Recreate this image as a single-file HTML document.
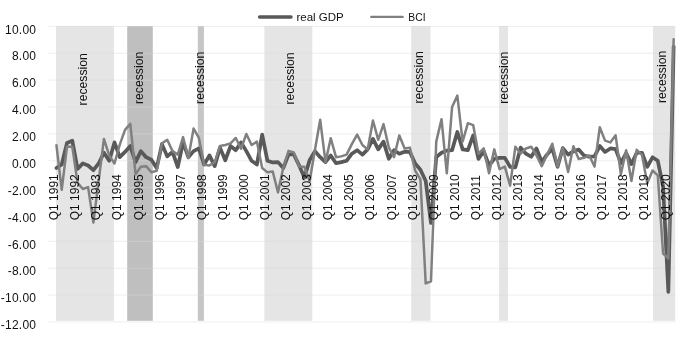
<!DOCTYPE html>
<html><head><meta charset="utf-8"><title>real GDP and BCI</title>
<style>html,body{margin:0;padding:0;background:#fff}svg{display:block}text{font-family:"Liberation Sans",sans-serif;font-size:12px;fill:#111}</style></head>
<body>
<svg width="690" height="345" viewBox="0 0 690 345">
<rect width="690" height="345" fill="#fff"/>
<rect x="56.0" y="26" width="57.9" height="294.8" fill="#e5e5e5"/>
<rect x="127.2" y="26" width="25.6" height="294.8" fill="#bfbfbf"/>
<rect x="197.8" y="26" width="6.1" height="294.8" fill="#c6c6c6"/>
<rect x="264.4" y="26" width="47.9" height="294.8" fill="#e5e5e5"/>
<rect x="411.2" y="26" width="19.3" height="294.8" fill="#e5e5e5"/>
<rect x="499.1" y="26" width="8.9" height="294.8" fill="#e5e5e5"/>
<rect x="653.0" y="26" width="22.2" height="294.8" fill="#e5e5e5"/>
<line x1="48.3" y1="26.40" x2="675.5" y2="26.40" stroke="#d9d9d9" stroke-width="1" stroke-opacity="0.45"/>
<line x1="48.3" y1="53.27" x2="675.5" y2="53.27" stroke="#d9d9d9" stroke-width="1" stroke-opacity="0.45"/>
<line x1="48.3" y1="80.14" x2="675.5" y2="80.14" stroke="#d9d9d9" stroke-width="1" stroke-opacity="0.45"/>
<line x1="48.3" y1="107.01" x2="675.5" y2="107.01" stroke="#d9d9d9" stroke-width="1" stroke-opacity="0.45"/>
<line x1="48.3" y1="133.88" x2="675.5" y2="133.88" stroke="#d9d9d9" stroke-width="1" stroke-opacity="0.45"/>
<line x1="48.3" y1="160.75" x2="675.5" y2="160.75" stroke="#d9d9d9" stroke-width="1" stroke-opacity="0.45"/>
<line x1="48.3" y1="187.62" x2="675.5" y2="187.62" stroke="#d9d9d9" stroke-width="1" stroke-opacity="0.45"/>
<line x1="48.3" y1="214.49" x2="675.5" y2="214.49" stroke="#d9d9d9" stroke-width="1" stroke-opacity="0.45"/>
<line x1="48.3" y1="241.36" x2="675.5" y2="241.36" stroke="#d9d9d9" stroke-width="1" stroke-opacity="0.45"/>
<line x1="48.3" y1="268.23" x2="675.5" y2="268.23" stroke="#d9d9d9" stroke-width="1" stroke-opacity="0.45"/>
<line x1="48.3" y1="295.10" x2="675.5" y2="295.10" stroke="#d9d9d9" stroke-width="1" stroke-opacity="0.45"/>
<line x1="48.3" y1="321.97" x2="675.5" y2="321.97" stroke="#d9d9d9" stroke-width="1" stroke-opacity="0.45"/>
<text x="36.3" y="33.5" text-anchor="end" style="letter-spacing:0.25px">10.00</text>
<text x="36.3" y="60.4" text-anchor="end" style="letter-spacing:0.25px">8.00</text>
<text x="36.3" y="87.2" text-anchor="end" style="letter-spacing:0.25px">6.00</text>
<text x="36.3" y="114.1" text-anchor="end" style="letter-spacing:0.25px">4.00</text>
<text x="36.3" y="141.0" text-anchor="end" style="letter-spacing:0.25px">2.00</text>
<text x="36.3" y="167.8" text-anchor="end" style="letter-spacing:0.25px">0.00</text>
<text x="36.3" y="194.7" text-anchor="end" style="letter-spacing:0.25px">-2.00</text>
<text x="36.3" y="221.6" text-anchor="end" style="letter-spacing:0.25px">-4.00</text>
<text x="36.3" y="248.5" text-anchor="end" style="letter-spacing:0.25px">-6.00</text>
<text x="36.3" y="275.3" text-anchor="end" style="letter-spacing:0.25px">-8.00</text>
<text x="36.3" y="302.2" text-anchor="end" style="letter-spacing:0.25px">-10.00</text>
<text x="36.3" y="329.1" text-anchor="end" style="letter-spacing:0.25px">-12.00</text>
<polyline fill="none" stroke="#595959" stroke-width="3.7" stroke-linejoin="round" stroke-linecap="round" points="56.45,168.05 61.73,164.56 67.00,142.93 72.28,140.65 77.55,168.86 82.83,163.35 88.10,165.50 93.38,170.20 98.65,163.49 103.93,152.74 109.20,160.80 114.48,142.39 119.75,157.17 125.03,151.93 130.30,146.02 135.57,162.14 140.85,151.13 146.12,157.17 151.40,159.73 156.68,168.05 161.95,144.14 167.23,156.37 172.50,151.93 177.78,167.11 183.05,142.39 188.32,157.17 193.60,151.13 198.88,148.44 204.15,164.56 209.43,155.43 214.70,166.17 219.98,147.63 225.25,160.26 230.53,146.02 235.80,150.19 241.07,142.39 246.35,151.13 251.62,160.80 256.90,164.56 262.18,134.60 267.45,160.80 272.73,162.41 278.00,162.14 283.28,168.05 288.55,154.49 293.83,154.49 299.10,165.37 304.38,177.59 309.65,160.13 314.93,151.13 320.20,157.17 325.48,162.14 330.75,155.43 336.03,163.22 341.30,162.14 346.57,160.80 351.85,153.68 357.12,150.19 362.40,154.62 367.68,149.38 372.95,138.90 378.23,149.38 383.50,141.59 388.78,158.78 394.05,150.19 399.32,153.68 404.60,151.66 409.88,151.93 415.15,163.49 420.43,169.80 425.70,180.95 430.98,223.00 436.25,157.17 441.53,152.74 446.80,150.59 452.07,150.19 457.35,131.91 462.62,149.38 467.90,150.19 473.18,135.41 478.45,158.92 483.73,151.13 489.00,165.50 494.28,158.78 499.55,157.84 504.83,157.84 510.10,166.85 515.38,167.38 520.65,147.63 525.93,153.68 531.20,156.77 536.48,148.44 541.75,161.87 547.03,154.62 552.30,148.71 557.58,166.85 562.85,148.04 568.12,154.62 573.40,151.40 578.68,149.51 583.95,155.43 589.23,156.77 594.50,156.37 599.78,146.02 605.05,151.93 610.33,148.44 615.60,149.11 620.88,163.22 626.15,153.14 631.43,164.16 636.70,152.74 641.98,152.74 647.25,166.85 652.53,157.31 657.80,160.80 663.08,186.33 668.35,291.93 673.63,46.60"/>
<polyline fill="none" stroke="#808080" stroke-width="2.5" stroke-linejoin="round" stroke-linecap="round" points="56.45,145.35 61.73,189.82 67.00,146.69 72.28,146.69 77.55,182.83 82.83,189.01 88.10,187.13 93.38,222.60 98.65,180.95 103.93,138.90 109.20,155.43 114.48,163.49 119.75,144.68 125.03,129.90 130.30,123.85 135.57,174.24 140.85,166.85 146.12,166.17 151.40,172.22 156.68,170.88 161.95,143.33 167.23,139.84 172.50,151.13 177.78,154.62 183.05,137.15 188.32,158.11 193.60,128.56 198.88,137.96 204.15,164.83 209.43,165.50 214.70,162.14 219.98,146.02 225.25,144.95 230.53,143.33 235.80,137.96 241.07,148.71 246.35,133.93 251.62,144.95 256.90,141.59 262.18,168.05 267.45,172.35 272.73,171.55 278.00,192.37 283.28,167.52 288.55,150.86 293.83,152.47 299.10,166.44 304.38,166.85 309.65,180.95 314.93,150.05 320.20,119.82 325.48,162.14 330.75,138.23 336.03,157.17 341.30,156.37 346.57,154.62 351.85,144.14 357.12,134.60 362.40,144.95 367.68,149.38 372.95,120.50 378.23,139.84 383.50,124.12 388.78,147.37 394.05,157.17 399.32,135.41 404.60,148.44 409.88,147.63 415.15,170.61 420.43,179.34 425.70,283.46 430.98,281.31 436.25,141.59 441.53,119.15 446.80,173.29 452.07,107.06 457.35,95.64 462.62,141.59 467.90,123.18 473.18,125.06 478.45,153.68 483.73,148.44 489.00,173.29 494.28,149.38 499.55,169.13 504.83,166.58 510.10,185.65 515.38,146.69 520.65,153.68 525.93,148.44 531.20,146.69 536.48,155.43 541.75,166.17 547.03,154.62 552.30,143.74 557.58,166.44 562.85,147.77 568.12,171.95 573.40,146.29 578.68,158.92 583.95,157.84 589.23,155.43 594.50,166.58 599.78,127.21 605.05,140.65 610.33,142.39 615.60,135.27 620.88,174.24 626.15,150.32 631.43,180.95 636.70,149.78 641.98,154.89 647.25,183.37 652.53,170.47 657.80,175.31 663.08,253.50 668.35,258.34 673.63,39.21"/>
<text transform="translate(58.2,220.3) rotate(-90)">Q1 1991</text>
<text transform="translate(79.3,220.3) rotate(-90)">Q1 1992</text>
<text transform="translate(100.4,220.3) rotate(-90)">Q1 1993</text>
<text transform="translate(121.4,220.3) rotate(-90)">Q1 1994</text>
<text transform="translate(142.5,220.3) rotate(-90)">Q1 1995</text>
<text transform="translate(163.6,220.3) rotate(-90)">Q1 1996</text>
<text transform="translate(184.7,220.3) rotate(-90)">Q1 1997</text>
<text transform="translate(205.8,220.3) rotate(-90)">Q1 1998</text>
<text transform="translate(226.8,220.3) rotate(-90)">Q1 1999</text>
<text transform="translate(247.9,220.3) rotate(-90)">Q1 2000</text>
<text transform="translate(269.0,220.3) rotate(-90)">Q1 2001</text>
<text transform="translate(290.1,220.3) rotate(-90)">Q1 2002</text>
<text transform="translate(311.2,220.3) rotate(-90)">Q1 2003</text>
<text transform="translate(332.2,220.3) rotate(-90)">Q1 2004</text>
<text transform="translate(353.3,220.3) rotate(-90)">Q1 2005</text>
<text transform="translate(374.4,220.3) rotate(-90)">Q1 2006</text>
<text transform="translate(395.5,220.3) rotate(-90)">Q1 2007</text>
<text transform="translate(416.6,220.3) rotate(-90)">Q1 2008</text>
<text transform="translate(437.6,220.3) rotate(-90)">Q1 2009</text>
<text transform="translate(458.7,220.3) rotate(-90)">Q1 2010</text>
<text transform="translate(479.8,220.3) rotate(-90)">Q1 2011</text>
<text transform="translate(500.9,220.3) rotate(-90)">Q1 2012</text>
<text transform="translate(522.0,220.3) rotate(-90)">Q1 2013</text>
<text transform="translate(543.0,220.3) rotate(-90)">Q1 2014</text>
<text transform="translate(564.1,220.3) rotate(-90)">Q1 2015</text>
<text transform="translate(585.2,220.3) rotate(-90)">Q1 2016</text>
<text transform="translate(606.3,220.3) rotate(-90)">Q1 2017</text>
<text transform="translate(627.4,220.3) rotate(-90)">Q1 2018</text>
<text transform="translate(648.4,220.3) rotate(-90)">Q1 2019</text>
<text transform="translate(669.5,220.3) rotate(-90)">Q1 2020</text>
<text transform="translate(87.1,79.3) rotate(-90)" text-anchor="middle" style="font-size:12.2px">recession</text>
<text transform="translate(143.4,77.9) rotate(-90)" text-anchor="middle" style="font-size:12.2px">recession</text>
<text transform="translate(203.6,77.8) rotate(-90)" text-anchor="middle" style="font-size:12.2px">recession</text>
<text transform="translate(294.4,78.5) rotate(-90)" text-anchor="middle" style="font-size:12.2px">recession</text>
<text transform="translate(423.4,77.4) rotate(-90)" text-anchor="middle" style="font-size:12.2px">recession</text>
<text transform="translate(507.6,77.7) rotate(-90)" text-anchor="middle" style="font-size:12.2px">recession</text>
<text transform="translate(665.5,76.9) rotate(-90)" text-anchor="middle" style="font-size:12.2px">recession</text>
<line x1="259.6" y1="17.1" x2="291" y2="17.1" stroke="#595959" stroke-width="3.5" stroke-linecap="round"/>
<text x="296.5" y="21.3" style="font-size:11.6px" textLength="47.3" lengthAdjust="spacingAndGlyphs">real GDP</text>
<line x1="371.2" y1="16.9" x2="402.7" y2="16.9" stroke="#808080" stroke-width="2.25" stroke-linecap="round"/>
<text x="408.3" y="21.3" style="font-size:11.6px" textLength="17.2" lengthAdjust="spacingAndGlyphs">BCI</text>
</svg>
</body></html>
